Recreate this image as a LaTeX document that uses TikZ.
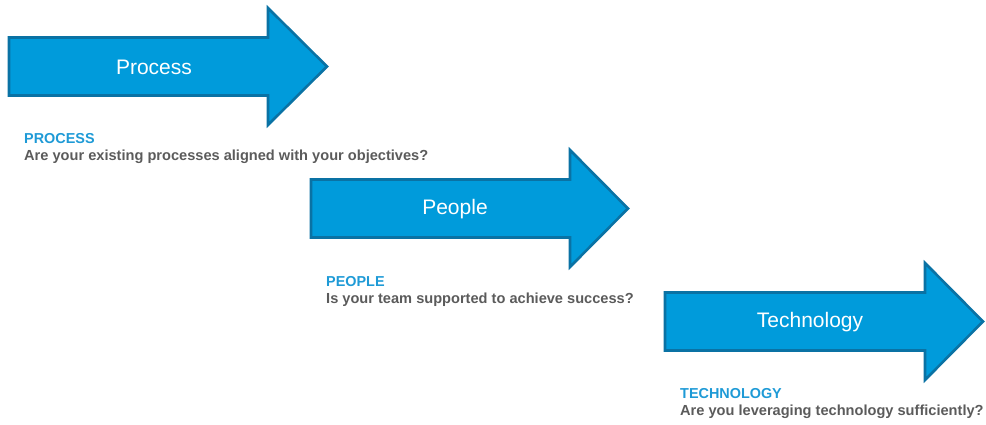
\documentclass[tikz,border=0pt]{standalone}
\usepackage{fontspec}
\setmainfont{Liberation Sans}
\usetikzlibrary{positioning}
\definecolor{arrowblue}{HTML}{009BDB}
\definecolor{arrowedge}{HTML}{0A72A4}
\definecolor{headblue}{HTML}{1E9AD6}
\definecolor{askgray}{HTML}{5B5B5B}
\tikzset{
  bigarrow/.style={fill=arrowblue, draw=arrowedge, line width=2.6pt, line join=miter},
  arrowtext/.style={text=white, font=\fontsize{21}{24}\selectfont, inner sep=0pt},
  heading/.style={text=headblue, font=\bfseries\fontsize{14.4}{16}\selectfont, inner sep=0pt, anchor=base west},
  question/.style={text=askgray, font=\bfseries\fontsize{14.6}{17}\selectfont, inner sep=0pt}
}
\begin{document}
\begin{tikzpicture}[x=1pt, y=1pt, node distance=17pt]
              % Cadre de l'image
                \useasboundingbox (0,0) rectangle (986,424);

              % Les trois flèches
                \draw[bigarrow, shift={(9,357.5)}] (0,29) -- (259,29) -- (259,58.5) -- (318,0)
                  -- (259,-58.5) -- (259,-29) -- (0,-29) -- cycle;
                \draw[bigarrow, shift={(311,215.5)}] (0,29) -- (259,29) -- (259,58.5) -- (317,0)
                  -- (259,-58.5) -- (259,-29) -- (0,-29) -- cycle;
                \draw[bigarrow, shift={(665,102.5)}] (0,29) -- (260,29) -- (260,58.5) -- (318,0)
                  -- (260,-58.5) -- (260,-29) -- (0,-29) -- cycle;

              % Textes dans les flèches
                \node[arrowtext] (process) at (154,357) {Process};
                \node[arrowtext] (people) at (455,215) {People};
                \node[arrowtext] (technology) at (810,102) {Technology};

              % Titres et questions
                \node[heading] (processtitle) at (24,280) {PROCESS};
                \node[question, below=of processtitle.base west, anchor=base west] (processask)
                  {Are your existing processes aligned with your objectives?};
                \node[heading] (peopletitle) at (326,138) {PEOPLE};
                \node[question, below=of peopletitle.base west, anchor=base west] (peopleask)
                  {Is your team supported to achieve success?};
                \node[heading] (technologytitle) at (680,26) {TECHNOLOGY};
                \node[question, below=of technologytitle.base west, anchor=base west] (technologyask)
                  {Are you leveraging technology sufficiently?};
\end{tikzpicture}
\end{document}
